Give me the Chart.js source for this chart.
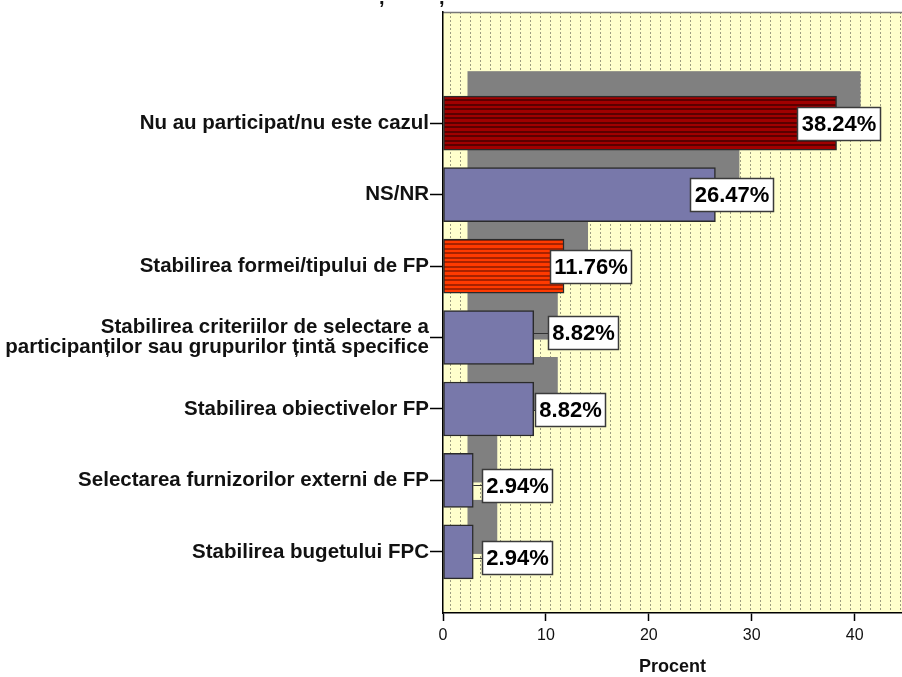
<!DOCTYPE html>
<html>
<head>
<meta charset="utf-8">
<script src="https://cdn.jsdelivr.net/npm/chart.js@4/dist/chart.umd.min.js"></script>
<style>
  html, body { margin: 0; padding: 0; background: #ffffff; }
  #wrap { width: 902px; height: 677px; position: relative; }
</style>
</head>
<body>
<div id="wrap"><canvas id="chart" width="902" height="677"></canvas></div>
<script>
// Answer categories (top to bottom) and their shares in percent
const categories = [
  'Nu au participat/nu este cazul',
  'NS/NR',
  'Stabilirea formei/tipului de FP',
  ['Stabilirea criteriilor de selectare a', 'participanților sau grupurilor țintă specifice'],
  'Stabilirea obiectivelor FP',
  'Selectarea furnizorilor externi de FP',
  'Stabilirea bugetului FPC'
];
const percentValues = [38.24, 26.47, 11.76, 8.82, 8.82, 2.94, 2.94];
const xTickValues = [0, 10, 20, 30, 40];
const xAxisTitle = 'Procent';

// Style settings
const FONT = "'Liberation Sans', Arial, sans-serif";
const BAR_KIND = ['darkred', 'blue', 'orange', 'blue', 'blue', 'blue', 'blue'];
const LABEL_SHIFT = [2, 16, 26, 49, 36, 44, 44];   // px from bar end to label centre
const LABEL_LIFT = [0, 0, 0, -5, 1, 5, 6];          // px vertical nudge of label boxes
const DEPTH_DX = 24, DEPTH_DY = -25;               // 3-D shadow offset

function stripes(light, dark) {
  const c = document.createElement('canvas');
  c.width = 4; c.height = 9;
  const g = c.getContext('2d');
  g.fillStyle = light; g.fillRect(0, 0, 4, 9);
  g.fillStyle = dark;
  g.fillRect(0, 0, 4, 2);
  g.fillRect(0, 5, 4, 2);
  return g.createPattern(c, 'repeat');
}
function dottedPaper() {
  const c = document.createElement('canvas');
  c.width = 10; c.height = 4;
  const g = c.getContext('2d');
  g.fillStyle = '#ffffcc'; g.fillRect(0, 0, 10, 4);
  g.fillStyle = '#9c9c80'; g.fillRect(0, 0, 1, 2);
  return g.createPattern(c, 'repeat');
}

const fills = BAR_KIND.map(k =>
  k === 'darkred' ? stripes('#a00000', '#5a0000') :
  k === 'orange'  ? stripes('#ff3a00', '#a82200') : '#7878aa');

const paperPlugin = {
  id: 'paper',
  beforeDraw(chart) {
    const { ctx, chartArea: a } = chart;
    ctx.save();
    ctx.fillStyle = '#ffffff';
    ctx.fillRect(0, 0, chart.width, chart.height);
    ctx.fillStyle = dottedPaper();
    ctx.fillRect(a.left, a.top, a.right - a.left, a.bottom - a.top);
    ctx.strokeStyle = '#777777';
    ctx.lineWidth = 1.5;
    ctx.beginPath();
    ctx.moveTo(a.left, a.top + 0.5);
    ctx.lineTo(a.right, a.top + 0.5);
    ctx.stroke();
    // tail of the heading line above the frame
    ctx.fillStyle = '#111';
    ctx.font = 'bold 20px ' + FONT;
    ctx.textAlign = 'left';
    ctx.textBaseline = 'alphabetic';
    ctx.fillText(',', 379, 4);
    ctx.fillText(',', 439, 4);
    ctx.restore();
  }
};

const depthPlugin = {
  id: 'depth',
  beforeDatasetsDraw(chart) {
    const { ctx, chartArea: a } = chart;
    const meta = chart.getDatasetMeta(0);
    ctx.save();
    ctx.beginPath();
    ctx.rect(a.left, a.top, a.right - a.left, a.bottom - a.top);
    ctx.clip();
    ctx.fillStyle = '#808080';
    meta.data.forEach(el => {
      const h = el.height;
      ctx.fillRect(el.base + DEPTH_DX, el.y - h / 2 + DEPTH_DY, el.x - el.base, h);
    });
    ctx.restore();
  }
};

const valueLabelPlugin = {
  id: 'valueLabels',
  afterDatasetsDraw(chart) {
    const { ctx } = chart;
    const meta = chart.getDatasetMeta(0);
    ctx.save();
    ctx.font = 'bold 22px ' + FONT;
    ctx.textAlign = 'center';
    ctx.textBaseline = 'middle';
    meta.data.forEach((el, i) => {
      const text = percentValues[i].toFixed(2) + '%';
      const w = Math.round(ctx.measureText(text).width + 8);
      const h = 33;
      const cx = el.x + LABEL_SHIFT[i];
      const cy = el.y + LABEL_LIFT[i];
      const left = Math.round(cx - w / 2);
      const top = Math.round(cy - h / 2);
      if (left > el.x) {
        ctx.strokeStyle = '#333';
        ctx.lineWidth = 1;
        ctx.beginPath();
        ctx.moveTo(el.x, Math.round(cy) + 0.5);
        ctx.lineTo(left, Math.round(cy) + 0.5);
        ctx.stroke();
      }
      ctx.fillStyle = '#ffffff';
      ctx.fillRect(left, top, w, h);
      ctx.strokeStyle = '#3a3a3a';
      ctx.lineWidth = 1.5;
      ctx.strokeRect(left + 0.5, top + 0.5, w, h);
      ctx.fillStyle = '#000';
      ctx.fillText(text, left + w / 2 + 0.5, top + h / 2 + 1.5);
    });
    ctx.restore();
  }
};

new Chart(document.getElementById('chart'), {
  type: 'bar',
  data: {
    datasets: [{
      data: percentValues.map((v, i) => ({ x: v, y: i })),
      backgroundColor: fills,
      borderColor: '#2a2a2a',
      borderWidth: 1.5,
      borderSkipped: false,
      barThickness: 54
    }]
  },
  options: {
    indexAxis: 'y',
    responsive: false,
    animation: false,
    layout: { padding: { top: 12, right: 0, left: 0, bottom: 0 } },
    plugins: { legend: { display: false }, tooltip: { enabled: false } },
    scales: {
      x: {
        type: 'linear',
        position: 'bottom',
        min: 0,
        max: 44.6,
        afterBuildTicks(s) { s.ticks = xTickValues.map(v => ({ value: v })); },
        afterFit(s) { s.height = 64; },
        ticks: { color: '#111', font: { family: FONT, size: 16 }, padding: 5, maxRotation: 0, includeBounds: false },
        grid: { drawOnChartArea: false, tickLength: 8, color: '#000', tickWidth: 1.5 },
        border: { color: '#000', width: 1.5 },
        title: { display: true, text: xAxisTitle, color: '#111',
                 font: { family: FONT, size: 18, weight: 'bold', lineHeight: 1.1 },
                 padding: { top: 0, bottom: 0 } }
      },
      y: {
        type: 'linear',
        reverse: true,
        offset: false,
        min: -1.556,
        max: 6.855,
        afterBuildTicks(s) { s.ticks = categories.map((_, i) => ({ value: i })); },
        afterFit(s) { s.width = 443; },
        ticks: {
          autoSkip: false,
          color: '#111',
          padding: 1,
          font: { family: FONT, size: 20.5, weight: 'bold', lineHeight: 0.95 },
          callback: v => categories[Math.round(v)]
        },
        grid: { offset: false, drawOnChartArea: false, tickLength: 13, color: '#000', tickWidth: 1.5 },
        border: { color: '#000', width: 1.5 }
      }
    }
  },
  plugins: [paperPlugin, depthPlugin, valueLabelPlugin]
});
</script>
</body>
</html>
